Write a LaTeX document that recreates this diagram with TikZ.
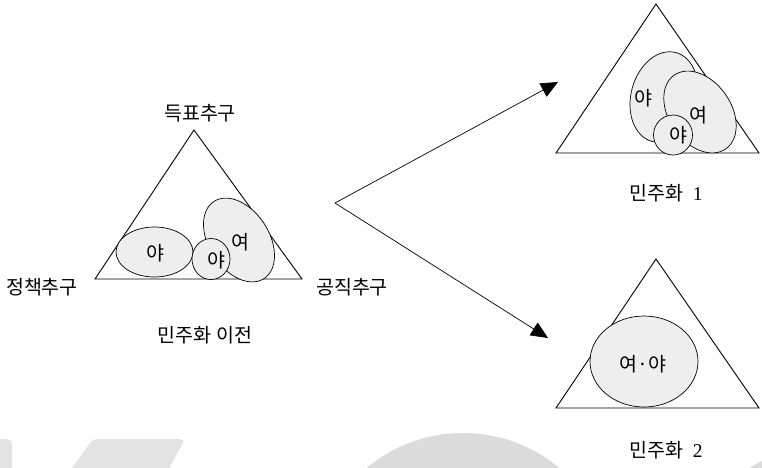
\documentclass[tikz,border=0pt]{standalone}
\usepackage{fontspec}
\setmainfont{Liberation Serif}
\newfontfamily\kor{Noto Sans CJK KR}
\usetikzlibrary{arrows.meta}

\begin{document}
\begin{tikzpicture}[
    x=1pt, y=-1pt,
    font=\fontsize{19.5}{22}\selectfont,
    tri/.style={draw, line width=0.9pt, line join=miter},
    blob/.style={draw, line width=0.7pt, fill=gray!13},
    wmark/.style={fill=black!11, draw=none},
    arr/.style={-{Triangle[length=17pt,width=15pt]}, line width=0.7pt},
    txt/.style={inner sep=1pt}
  ]
  \useasboundingbox (0,0) rectangle (762,467);
  % faint watermark along the bottom
  \fill[wmark, rounded corners=5pt] (-10,439) rectangle (12,480);
  \fill[wmark, rounded corners=5pt] (93,439) -- (185,439) -- (163,480) -- (63,480) -- cycle;
  \fill[black!14] (463,583) circle (150);
  \fill[black!14] (810,560) circle (110);

  % before democratisation
  \coordinate (La) at (194,130);
  \coordinate (Lb) at (95,279);
  \coordinate (Lc) at (302,279);
  \draw[tri] (La) -- (Lb) -- (Lc) -- cycle;
  \filldraw[blob] (154.5,252) ellipse [x radius=38.5, y radius=25];
  \filldraw[blob, rotate around={-57:(239,240)}] (239,240) ellipse [x radius=46, y radius=30];
  \filldraw[blob] (211,259) ellipse [x radius=19, y radius=20.5];
  \node[txt] (ly1) at (155,253) {\kor 야};
  \node[txt] (ly2) at (240,242) {\kor 여};
  \node[txt] (ly3) at (216,260) {\kor 야};
  \node (vote) at (200,113) {\kor 득표추구};
  \node (policy) at (42,287) {\kor 정책추구};
  \node (office) at (352,287) {\kor 공직추구};
  \node (cap0) at (205,335) {\kor 민주화 이전};

  % arrows
  \coordinate (fork) at (335,203);
  \coordinate (tip1) at (558,82);
  \coordinate (tip2) at (548,338);
  \draw[arr] (fork) -- (tip1);
  \draw[arr] (fork) -- (tip2);

  % democratisation 1
  \coordinate (Ua) at (656,4);
  \coordinate (Ub) at (556,153);
  \coordinate (Uc) at (759,153);
  \draw[tri] (Ua) -- (Ub) -- (Uc) -- cycle;
  \filldraw[blob, rotate around={75:(664,97)}] (664,97) ellipse [x radius=46, y radius=33];
  \filldraw[blob, rotate around={-55:(700,112)}] (700,112) ellipse [x radius=45, y radius=31];
  \filldraw[blob] (673,135) ellipse [x radius=19.5, y radius=20];
  \node[txt] (uy1) at (643,98) {\kor 야};
  \node[txt] (uy2) at (698,115) {\kor 여};
  \node[txt] (uy3) at (678,135) {\kor 야};
  \node (cap1) at (666,193) {{\kor 민주화}~~1};

  % democratisation 2
  \coordinate (Da) at (656,259);
  \coordinate (Db) at (556,408);
  \coordinate (Dc) at (759,408);
  \draw[tri] (Da) -- (Db) -- (Dc) -- cycle;
  \filldraw[blob] (644,361.5) ellipse [x radius=54, y radius=45.5];
  \node[txt] (dy) at (643,364) {\kor 여·야};
  \node (cap2) at (666,450) {{\kor 민주화}~~2};
\end{tikzpicture}
\end{document}
